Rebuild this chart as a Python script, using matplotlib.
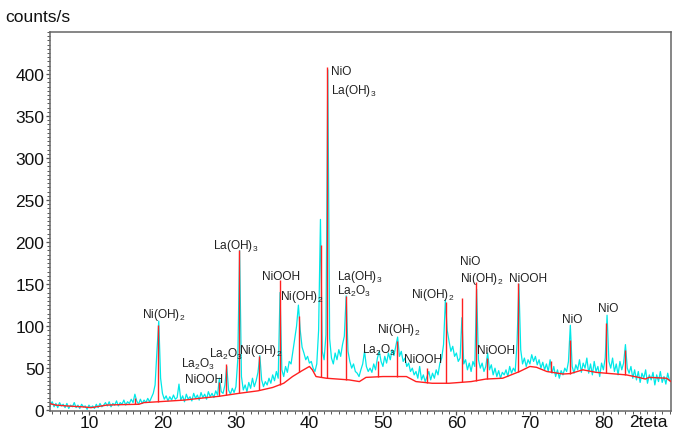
import numpy as np
import matplotlib
matplotlib.use("Agg")
import matplotlib.pyplot as plt
from matplotlib.ticker import MultipleLocator
from matplotlib.transforms import blended_transform_factory

plt.rcParams['font.family'] = ['Liberation Sans', 'DejaVu Sans']
plt.rcParams['mathtext.fontset'] = 'custom'
plt.rcParams['mathtext.rm'] = 'Liberation Sans'
plt.rcParams['mathtext.default'] = 'regular'

# measured pattern (cyan), 0.25 deg steps starting at 4.5
scan_start = 4.5
scan_step = 0.25
counts = [
    13, 6, 10, 4, 8, 3, 9, 5,
    7, 3, 8, 2, 6, 4, 9, 3,
    6, 2, 7, 4, 5, 1, 6, 3,
    5, 2, 7, 3, 8, 4, 6, 9,
    5, 10, 4, 8, 6, 11, 5, 9,
    7, 12, 6, 10, 8, 13, 9, 19,
    11, 7, 13, 8, 12, 9, 14, 10,
    15, 20, 30, 70, 106, 38, 20, 13,
    17, 11, 16, 12, 18, 13, 15, 31,
    12, 17, 10, 19, 13, 16, 11, 20,
    14, 18, 12, 21, 15, 19, 13, 22,
    16, 20, 15, 23, 18, 38, 22, 20,
    30, 52, 24, 19, 26, 21, 28, 60,
    190, 40, 24, 30, 22, 33, 26, 38,
    28, 35, 45, 65, 36, 28, 34, 30,
    38, 32, 42, 35, 46, 38, 140, 48,
    40, 52, 45, 58, 55, 70, 85, 100,
    125, 95, 75, 68, 60, 64, 56, 58,
    50, 46, 55, 95, 227, 70, 60, 90,
    405, 85, 62, 55, 68, 60, 72, 64,
    78, 88, 136, 70, 58, 50, 55, 46,
    44, 40, 48, 55, 70, 52, 46, 50,
    45, 55, 48, 62, 70, 58, 52, 64,
    56, 68, 60, 72, 65, 76, 87, 64,
    70, 58, 62, 52, 56, 46, 50, 42,
    46, 38, 52, 36, 42, 34, 40, 46,
    36, 44, 38, 48, 42, 56, 62, 78,
    131, 95, 82, 70, 76, 64, 68, 58,
    62, 110, 55, 60, 48, 56, 46, 58,
    52, 144, 60, 50, 56, 46, 52, 68,
    48, 54, 42, 50, 40, 47, 38, 45,
    42, 48, 40, 52, 44, 50, 46, 80,
    150, 72, 55, 62, 52, 60, 55, 66,
    58, 64, 54, 60, 50, 57, 48, 55,
    46, 60, 44, 52, 40, 48, 38, 47,
    42, 50, 46, 58, 101, 52, 44, 54,
    48, 60, 45, 56, 50, 62, 44, 55,
    42, 58, 46, 52, 40, 56, 48, 62,
    113, 58, 50, 62, 46, 55, 42, 58,
    48, 56, 78, 50, 44, 52, 38, 48,
    36, 46, 33, 44, 38, 48, 32, 42,
    36, 45, 30, 42, 34, 46, 33, 40,
    31, 44, 35,
]

# background (red)
bg_theta = [4.6, 5.5, 7.0, 9.0, 10.3, 12.4, 14.0, 16.8, 17.5, 19.4, 23.0, 25.0,
            27.7, 30.4, 33.0, 35.0, 36.5, 37.7, 39.0, 40.0, 40.4, 40.9, 42.3,
            45.4, 46.8, 47.7, 50.0, 53.2, 54.5, 56.7, 59.0, 62.0, 64.0, 66.3,
            68.6, 70.0, 70.9, 72.3, 74.5, 75.5, 77.2, 79.0, 80.3, 83.1, 84.8,
            85.7, 86.2, 88.6, 89.2]
bg_counts = [8, 6, 5, 4, 3, 6, 6.5, 7, 9, 10, 12, 14,
             16.5, 20, 23, 27, 32, 40, 47, 52, 48, 40, 38,
             36, 34, 39, 40, 40, 34, 32, 32, 34, 37, 38,
             46, 52, 51, 46, 43, 43.5, 48, 45, 44, 42, 39,
             37, 39, 38, 34]

# reflexes (red sticks)
stick_theta = [16.2, 19.4, 27.7, 28.6, 30.4, 33.2, 36.0, 38.6, 41.6, 42.4, 45.0,
               49.3, 51.9, 56.0, 58.6, 60.7, 62.7, 64.2, 68.4, 72.9, 75.4, 80.4, 83.0]
stick_counts = [15, 101, 33, 55, 190, 65, 155, 112, 197, 408, 136,
                58, 82, 50, 129, 134, 153, 62, 151, 58, 84, 104, 71]

# phase labels
lab_text = [r'Ni(OH)$_2$', r'La$_2$O$_3$', 'NiOOH', r'La$_2$O$_3$', r'La(OH)$_3$',
            r'Ni(OH)$_2$', 'NiOOH', r'Ni(OH)$_2$', 'NiO', r'La(OH)$_3$',
            r'La(OH)$_3$', r'La$_2$O$_3$', r'La$_2$O$_3$', r'Ni(OH)$_2$', 'NiOOH',
            r'Ni(OH)$_2$', 'NiO', r'Ni(OH)$_2$', 'NiOOH', 'NiOOH', 'NiO', 'NiO']
lab_theta = [20.1, 24.9, 25.7, 28.7, 30.0,
             33.4, 36.2, 38.9, 43.0, 43.0,
             43.8, 43.8, 49.5, 52.2, 55.5,
             56.7, 60.5, 60.5, 65.4, 69.8, 75.7, 80.7]
lab_counts = [115, 55, 37, 67, 196,
              72, 160, 136, 404, 381,
              160, 142, 72, 96, 61,
              138, 178, 157, 72, 157, 109, 122]
lab_ha = ['center', 'center', 'center', 'center', 'center',
          'center', 'center', 'center', 'left', 'left',
          'left', 'left', 'center', 'center', 'center',
          'center', 'left', 'left', 'center', 'center', 'center', 'center']

theta = scan_start + scan_step * np.arange(len(counts))

fig = plt.figure(figsize=(6.83, 4.35), dpi=100)
ax = fig.add_axes([50 / 683, 23 / 435, 621 / 683, 379 / 435])

ax.plot(theta, counts, color='#00e8e8', lw=0.9, zorder=2)
ax.plot(bg_theta, bg_counts, color='#ff2020', lw=1.0, zorder=3)
stick_base = np.interp(stick_theta, bg_theta, bg_counts)
ax.vlines(stick_theta, stick_base, stick_counts, color='#ff2020', lw=1.0, zorder=3)

for t, x, y, ha in zip(lab_text, lab_theta, lab_counts, lab_ha):
    ax.text(x, y, t, ha=ha, va='center', fontsize=8.6, color='#222222', zorder=4)

ax.set_xlim(4.7, 89.2)
ax.set_ylim(-1, 450)
ax.set_xticks(range(10, 90, 10))
ax.set_yticks(range(0, 401, 50))
ax.xaxis.set_minor_locator(MultipleLocator(1))
ax.yaxis.set_minor_locator(MultipleLocator(5))
ax.tick_params(which='both', direction='out', color='#555555', labelsize=12.5,
               labelcolor='#111111')
ax.tick_params(which='major', length=3, width=0.9, pad=1)
ax.tick_params(which='minor', length=2, width=0.7)
ax.tick_params(axis='x', which='major', pad=0)
for s in ax.spines.values():
    s.set_color('#666666')
    s.set_linewidth(1.1)

trans = blended_transform_factory(ax.transData, ax.transAxes)
ax.text(86.1, -0.008, '2teta', transform=trans, ha='center', va='top',
        fontsize=12.5, color='#111111')
fig.text(5 / 683, 1 - 18 / 435, 'counts/s', ha='left', va='center',
         fontsize=12.5, color='#111111')

fig.savefig('out.png', dpi=100)
